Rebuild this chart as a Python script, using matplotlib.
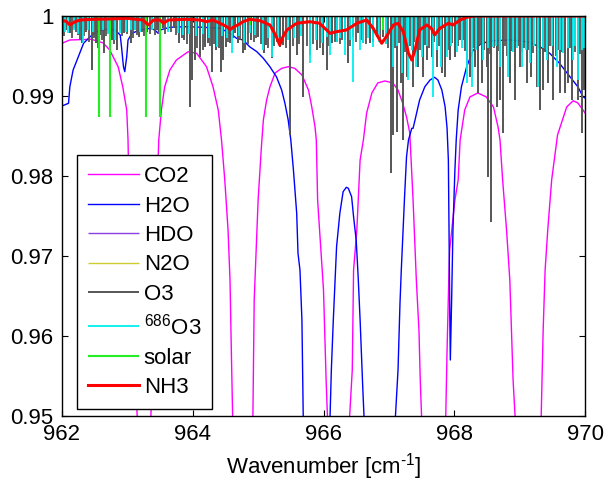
import matplotlib
matplotlib.use("Agg")
import matplotlib.pyplot as plt

plt.rcParams['font.family'] = ['Liberation Sans', 'DejaVu Sans']
plt.rcParams['mathtext.fontset'] = 'custom'
plt.rcParams['mathtext.rm'] = 'Liberation Sans'
plt.rcParams['mathtext.it'] = 'Liberation Sans'
plt.rcParams['mathtext.default'] = 'regular'

# ---------------- data ----------------
x_ticks = [962, 964, 966, 968, 970]
y_ticks = [0.95, 0.96, 0.97, 0.98, 0.99, 1.0]
y_tick_labels = ['0.95', '0.96', '0.97', '0.98', '0.99', '1']

# CO2 transmission (values below 0.95 are off-chart estimates)
co2_wn = [962.00, 962.12, 962.45, 962.63, 962.73, 962.86, 962.93, 962.99, 963.01, 963.04, 963.15,
          963.25,
          963.36, 963.41, 963.45, 963.48, 963.52, 963.57, 963.65, 963.75, 963.93, 964.06, 964.21,
          964.31, 964.39, 964.44, 964.49, 964.54, 964.57, 964.59, 964.61,
          964.76,
          964.92, 964.94, 964.97, 965.00, 965.05, 965.08, 965.13, 965.18, 965.26, 965.36, 965.46,
          965.56, 965.67, 965.77, 965.82, 965.87, 965.89, 965.91, 965.96, 966.00, 966.04, 966.06,
          966.23,
          966.40, 966.44, 966.46, 966.51, 966.56, 966.61, 966.66, 966.74, 966.83, 966.94, 967.06,
          967.14, 967.21, 967.27, 967.32, 967.37, 967.42, 967.46, 967.48, 967.50,
          967.69,
          967.87, 967.89, 967.92, 967.93, 968.01, 968.06, 968.09, 968.16, 968.24, 968.36, 968.49,
          968.60, 968.67, 968.70, 968.74, 968.80, 968.85, 968.90, 968.93,
          969.13,
          969.33, 969.36, 969.39, 969.43, 969.49, 969.58, 969.67, 969.72, 969.82, 969.89, 969.97,
          970.00]
co2_tr = [0.9966, 0.9970, 0.99709, 0.99663, 0.99575, 0.99363, 0.99113, 0.98825, 0.9845, 0.97075, 0.9500,
          0.930,
          0.9500, 0.9645, 0.9770, 0.9845, 0.98825, 0.99113, 0.99325, 0.9945, 0.99554, 0.99534, 0.99366,
          0.99116, 0.98825, 0.9845, 0.9795, 0.97325, 0.9670, 0.95825, 0.9500,
          0.930,
          0.9500, 0.9645, 0.97075, 0.9770, 0.98363, 0.9870, 0.9895, 0.99113, 0.99288, 0.99346, 0.99366,
          0.99346, 0.99263, 0.99075, 0.98866, 0.98616, 0.9845, 0.9770, 0.97075, 0.96575, 0.9545, 0.9500,
          0.930,
          0.9500, 0.95575, 0.96825, 0.97325, 0.9820, 0.9845, 0.98788, 0.99038, 0.99163, 0.99188, 0.99163,
          0.99075, 0.98913, 0.98738, 0.98538, 0.9770, 0.9670, 0.96075, 0.9545, 0.9500,
          0.930,
          0.9500, 0.95825, 0.96825, 0.97075, 0.9770, 0.9795, 0.9845, 0.98825, 0.98988, 0.99038, 0.98988,
          0.98863, 0.98613, 0.9845, 0.9795, 0.97325, 0.9670, 0.9545, 0.9500,
          0.930,
          0.9500, 0.96075, 0.96825, 0.97325, 0.9795, 0.98513, 0.98738, 0.98863, 0.98941, 0.98913, 0.98825,
          0.98788]

# H2O transmission
h2o_wn = [962.00, 962.10, 962.12, 962.17, 962.25, 962.33, 962.43, 962.53, 962.68, 962.81, 962.89,
          962.91, 962.94, 962.96, 962.99, 963.01, 963.07, 963.19, 963.35, 963.42, 963.47, 963.50,
          963.65, 963.91, 964.16, 964.42, 964.57, 964.67, 964.77, 964.87, 964.98, 965.08, 965.18,
          965.28, 965.36, 965.41, 965.46, 965.50, 965.54, 965.59, 965.61, 965.64, 965.67, 965.69,
          965.89,
          966.10, 966.12, 966.15, 966.20, 966.25, 966.30, 966.35, 966.38, 966.43, 966.46, 966.50,
          966.53, 966.56, 966.60, 966.62,
          966.86,
          967.10, 967.14, 967.17, 967.19, 967.24, 967.27, 967.30, 967.35, 967.37, 967.40, 967.47,
          967.55, 967.63, 967.70, 967.75, 967.81, 967.86, 967.89, 967.91, 967.92, 967.93, 967.94,
          967.96, 967.98, 968.01, 968.03, 968.06, 968.11, 968.19, 968.29, 968.42, 968.59, 968.85,
          969.11, 969.31, 969.46, 969.61, 969.77, 969.89, 969.97, 970.00]
h2o_tr = [0.98875, 0.98909, 0.99116, 0.99325, 0.99491, 0.99659, 0.99741, 0.99804, 0.99834, 0.99825, 0.99763,
          0.99616, 0.99366, 0.99304, 0.99491, 0.9970, 0.99784, 0.99825, 0.99846, 0.99825, 0.99784, 0.99825,
          0.99859, 0.99866, 0.99859, 0.99846, 0.99784, 0.99721, 0.9970, 0.99616, 0.99554, 0.99471, 0.99366,
          0.99241, 0.99075, 0.98909, 0.9870, 0.9845, 0.98075, 0.97534, 0.97034, 0.96825, 0.9620, 0.9499,
          0.930,
          0.9499, 0.95575, 0.9620, 0.97116, 0.97534, 0.97804, 0.97859, 0.97846, 0.97741, 0.97491, 0.9720,
          0.96741, 0.9620, 0.95366, 0.9499,
          0.930,
          0.9499, 0.95575, 0.96409, 0.96825, 0.97741, 0.98241, 0.9845, 0.98596, 0.98596, 0.9870, 0.9895,
          0.99116, 0.9920, 0.99234, 0.9920, 0.99075, 0.98866, 0.9860, 0.9820, 0.97325, 0.9645, 0.9570,
          0.9645, 0.97325, 0.98075, 0.9845, 0.98825, 0.99116, 0.99366, 0.99575, 0.99659, 0.99691, 0.9970,
          0.99679, 0.99616, 0.99534, 0.99409, 0.99241, 0.99116, 0.98991, 0.98975]

# HDO lines (centre, minimum transmission)
hdo_wn = [963.47, 969.17]
hdo_min = [0.9979, 0.9966]

# N2O lines
n2o_wn = [962.25, 963.73, 965.96]
n2o_min = [0.9991, 0.9991, 0.9998]

# O3 lines (stronger)
o3_wn = [962.06, 962.12, 962.18, 962.25, 962.31, 962.37, 962.46, 962.52, 962.58, 962.64, 962.70,
         962.76, 962.84, 962.89, 962.95, 963.06, 963.12, 963.18, 963.30, 963.38, 963.45, 963.54,
         963.62, 963.71, 963.79, 963.87, 963.96, 963.99, 964.03, 964.11, 964.19, 964.23, 964.29,
         964.36, 964.43, 964.46, 964.51, 964.57, 964.65, 964.69, 964.77, 964.80, 964.89, 965.00,
         965.09, 965.12, 965.21, 965.33, 965.38, 965.49, 965.59, 965.69, 965.79, 965.90, 965.99,
         966.05, 966.13, 966.21, 966.33, 966.37, 966.45, 966.53, 966.60, 966.71, 966.82, 966.91,
         967.03, 967.06, 967.12, 967.18, 967.21, 967.28, 967.37, 967.44, 967.52, 967.58, 967.66,
         967.73, 967.81, 967.86, 967.93, 968.01, 968.09, 968.19, 968.24, 968.32, 968.36, 968.42,
         968.50, 968.51, 968.56, 968.65, 968.70, 968.74, 968.85, 968.93, 969.00, 969.11, 969.17,
         969.26, 969.31, 969.35, 969.43, 969.51, 969.61, 969.69, 969.74, 969.80, 969.89, 969.95,
         969.98]
o3_min = [0.9982, 0.9979, 0.9985, 0.9976, 0.9966, 0.9980, 0.9933, 0.9966, 0.9976, 0.9954, 0.9979,
          0.9970, 0.9958, 0.9982, 0.9979, 0.9966, 0.9982, 0.9974, 0.9980, 0.9985, 0.9982, 0.9985,
          0.9982, 0.9985, 0.9966, 0.9970, 0.9886, 0.9920, 0.9945, 0.9949, 0.9961, 0.9966, 0.9930,
          0.9958, 0.9930, 0.9945, 0.9961, 0.9966, 0.9979, 0.9966, 0.9954, 0.9958, 0.9970, 0.9974,
          0.9954, 0.9964, 0.9948, 0.9961, 0.9964, 0.9851, 0.9951, 0.9899, 0.9951, 0.9958, 0.9951,
          0.9933, 0.9966, 0.9968, 0.9970, 0.9941, 0.9974, 0.9979, 0.9966, 0.9966, 0.9974, 0.9974,
          0.9804, 0.9851, 0.9855, 0.9916, 0.9845, 0.9924, 0.9911, 0.9936, 0.9924, 0.9945, 0.9949,
          0.9936, 0.9929, 0.9924, 0.9945, 0.9949, 0.9970, 0.9936, 0.9924, 0.9936, 0.9904, 0.9916,
          0.9936, 0.9799, 0.9743, 0.9886, 0.9895, 0.9854, 0.9916, 0.9895, 0.9936, 0.9916, 0.9924,
          0.9911, 0.9883, 0.9908, 0.9916, 0.9895, 0.9904, 0.9904, 0.9916, 0.9895, 0.9895, 0.9854,
          0.9908]

# O3 lines (weaker, the dense forest near the top)
o3_weak_wn = [962.03, 962.15, 962.22, 962.28, 962.34, 962.41, 962.49, 962.55, 962.61, 962.67, 962.73,
              962.80, 962.92, 963.00, 963.09, 963.15, 963.22, 963.26, 963.34, 963.42, 963.49, 963.58,
              963.66, 963.75, 963.83, 963.91, 964.07, 964.15, 964.26, 964.33, 964.40, 964.54, 964.61,
              964.73, 964.84, 964.93, 964.96, 965.04, 965.15, 965.25, 965.29, 965.43, 965.53, 965.63,
              965.74, 965.84, 965.94, 966.09, 966.17, 966.25, 966.29, 966.41, 966.49, 966.57, 966.65,
              966.76, 966.87, 966.96, 966.99,
              967.09, 967.15, 967.24, 967.32, 967.40, 967.48, 967.55, 967.62, 967.69, 967.77, 967.90,
              967.97, 968.05, 968.13, 968.16, 968.28, 968.39, 968.46, 968.54, 968.61, 968.68, 968.78,
              968.81, 968.89, 968.97, 969.04, 969.07, 969.14, 969.21, 969.29, 969.39, 969.47, 969.55,
              969.58, 969.65, 969.77, 969.84, 969.92]
o3_weak_min = [0.9975, 0.9972, 0.9980, 0.9970, 0.9975, 0.9968, 0.9972, 0.9960, 0.9970, 0.9975, 0.9968,
               0.9965, 0.9975, 0.9978, 0.9972, 0.9976, 0.9980, 0.9975, 0.9978, 0.9976, 0.9980, 0.9978,
               0.9980, 0.9976, 0.9972, 0.9965, 0.9960, 0.9958, 0.9962, 0.9965, 0.9960, 0.9968, 0.9972,
               0.9970, 0.9965, 0.9968, 0.9972, 0.9965, 0.9960, 0.9962, 0.9968, 0.9960, 0.9963, 0.9965,
               0.9962, 0.9965, 0.9960, 0.9962, 0.9968, 0.9965, 0.9970, 0.9962, 0.9968, 0.9970, 0.9965,
               0.9968, 0.9970, 0.9965, 0.9960,
               0.9960, 0.9966, 0.9955, 0.9962, 0.9968, 0.9958, 0.9964, 0.9960, 0.9968, 0.9962, 0.9958,
               0.9966, 0.9962, 0.9970, 0.9956, 0.9960, 0.9964, 0.9958, 0.9952, 0.9960, 0.9956, 0.9962,
               0.9950, 0.9956, 0.9962, 0.9955, 0.9960, 0.9958, 0.9954, 0.9960, 0.9955, 0.9962, 0.9950,
               0.9958, 0.9955, 0.9960, 0.9955, 0.9952]

# 686-O3 lines
o3686_wn = [962.09, 962.32, 962.81, 962.89, 963.12, 963.28, 963.50, 963.77, 964.37, 964.60, 964.78,
            964.87, 965.07, 965.21, 965.79, 965.98, 966.10, 966.33, 966.45, 966.56, 966.60, 966.76,
            967.06, 967.20, 967.28, 967.29, 967.41, 967.50, 967.67, 967.80, 967.89, 968.19, 968.27,
            968.44, 968.59, 968.70, 968.82, 969.03, 969.16, 969.28, 969.42, 969.57, 969.66, 969.81,
            969.89, 969.95,
            962.04, 962.18, 962.25, 962.40, 962.47, 962.62, 962.70, 962.98, 963.05, 963.20, 963.38,
            963.62, 963.85, 963.94, 964.05, 964.15, 964.25, 964.45, 964.53, 964.70, 964.95, 965.15,
            965.30, 965.45, 965.55, 965.65, 965.88, 966.05, 966.20, 966.25, 966.40, 966.68, 966.85,
            966.95, 967.12, 967.35, 967.58, 967.73, 967.95, 968.04, 968.12, 968.34, 968.52, 968.64,
            968.90, 968.96, 969.09, 969.22, 969.35, 969.50, 969.62, 969.74, 969.85, 969.98]
o3686_min = [0.9979, 0.9966, 0.9970, 0.9979, 0.9982, 0.9966, 0.9958, 0.9979, 0.9961, 0.9954, 0.9966,
             0.9979, 0.9958, 0.9949, 0.9941, 0.9966, 0.9951, 0.9951, 0.9918, 0.9958, 0.9966, 0.9961,
             0.9936, 0.9929, 0.9966, 0.9920, 0.9936, 0.9949, 0.9899, 0.9936, 0.9949, 0.9916, 0.9911,
             0.9945, 0.9961, 0.9936, 0.9924, 0.9936, 0.9941, 0.9911, 0.9945, 0.9936, 0.9954, 0.9945,
             0.9920, 0.9958,
             0.9980, 0.9982, 0.9978, 0.9982, 0.9980, 0.9982, 0.9978, 0.9980, 0.9982, 0.9980, 0.9982,
             0.9980, 0.9976, 0.9978, 0.9975, 0.9978, 0.9972, 0.9975, 0.9972, 0.9975, 0.9976, 0.9972,
             0.9974, 0.9970, 0.9972, 0.9975, 0.9970, 0.9974, 0.9968, 0.9972, 0.9970, 0.9972, 0.9968,
             0.9965, 0.9962, 0.9958, 0.9962, 0.9958, 0.9962, 0.9955, 0.9960, 0.9958, 0.9960, 0.9962,
             0.9955, 0.9960, 0.9958, 0.9962, 0.9960, 0.9962, 0.9958, 0.9960, 0.9962, 0.9960]

# solar lines
solar_continuum = 1.0
solar_wn = [962.57, 962.73, 963.28, 963.50, 964.87, 966.91]
solar_min = [0.9874, 0.9874, 0.9874, 0.9874, 0.9989, 0.9982]

# NH3 transmission
nh3_wn = [962.00, 962.07, 962.12, 962.20, 962.28, 962.48, 962.73, 962.99, 963.24, 963.32, 963.40,
          963.50, 963.55, 963.63, 963.91, 964.11, 964.21, 964.31, 964.47, 964.52, 964.57, 964.63,
          964.69, 964.77, 964.87, 965.03, 965.18, 965.28, 965.33, 965.38, 965.44, 965.59, 965.79,
          965.94, 966.10, 966.20, 966.35, 966.51, 966.66, 966.76, 966.89, 966.96, 967.07, 967.14,
          967.22, 967.30, 967.35, 967.40, 967.47, 967.58, 967.65, 967.70, 967.78, 967.91, 967.98,
          968.09, 968.19, 968.24, 968.32, 970.00]
nh3_tr = [0.9995, 0.99929, 0.99888, 0.99929, 0.9995, 0.99959, 0.99963, 0.99971, 0.9995, 0.99888, 0.9995,
          0.9995, 0.99909, 0.9995, 0.99959, 0.9995, 0.99929, 0.9995, 0.99888, 0.99866, 0.9983, 0.99866,
          0.99888, 0.99929, 0.99959, 0.99941, 0.99888, 0.99741, 0.99638, 0.99741, 0.99825, 0.99909, 0.99929,
          0.99909, 0.99784, 0.99804, 0.99825, 0.99909, 0.9995, 0.99846, 0.99659, 0.99741, 0.99888, 0.99909,
          0.99804, 0.99534, 0.9945, 0.99575, 0.99825, 0.99888, 0.99846, 0.99763, 0.99846, 0.99909, 0.99888,
          0.9995, 0.99984, 0.99991, 1.0, 1.0]

labels = ['CO2', 'H2O', 'HDO', 'N2O', 'O3', r'$^{686}$O3', 'solar', 'NH3']
colors = ['#FF00FF', '#0000FF', '#8A3FE0', '#CCCC30', '#555555', '#00F0F0', '#22EE22', '#FF0000']

# ---------------- figure ----------------
fig = plt.figure(figsize=(6.09, 4.86), dpi=100)
ax = fig.add_axes([62 / 609, 70 / 486, 523 / 609, 400 / 486])

h_co2, = ax.plot(co2_wn, co2_tr, color=colors[0], lw=1.0, label=labels[0])
h_h2o, = ax.plot(h2o_wn, h2o_tr, color=colors[1], lw=1.0, label=labels[1])
h_hdo = ax.vlines(hdo_wn, hdo_min, solar_continuum, color=colors[2], lw=1.0, label=labels[2])
h_n2o = ax.vlines(n2o_wn, n2o_min, solar_continuum, color=colors[3], lw=1.0, label=labels[3])
ax.vlines(o3_weak_wn, o3_weak_min, solar_continuum, color=colors[4], lw=1.3)
h_o3 = ax.vlines(o3_wn, o3_min, solar_continuum, color=colors[4], lw=1.4, label=labels[4])
h_686 = ax.vlines(o3686_wn, o3686_min, solar_continuum, color=colors[5], lw=1.3, label=labels[5])
ax.axhline(solar_continuum, color=colors[6], lw=1.5)
h_sol = ax.vlines(solar_wn, solar_min, solar_continuum, color=colors[6], lw=1.5, label=labels[6])
h_nh3, = ax.plot(nh3_wn, nh3_tr, color=colors[7], lw=2.2, label=labels[7])

ax.set_xlim(962, 970)
ax.set_ylim(0.95, 1.0)
ax.set_xticks(x_ticks)
ax.set_xticklabels([str(v) for v in x_ticks])
ax.set_yticks(y_ticks)
ax.set_yticklabels(y_tick_labels)
ax.tick_params(direction='in', length=4, width=0.8, labelsize=16, pad=6,
               top=True, right=True)
for s in ax.spines.values():
    s.set_linewidth(1.0)
ax.set_xlabel(r'Wavenumber [cm$^{\text{-}1}$]', fontsize=16, labelpad=4)

leg = ax.legend(handles=[h_co2, h_h2o, h_hdo, h_n2o, h_o3, h_686, h_sol, h_nh3],
                loc='upper left', bbox_to_anchor=(15 / 523, (416 - 155) / 400),
                borderaxespad=0, fontsize=16, frameon=True, fancybox=False,
                edgecolor='black', framealpha=1, handlelength=2.3, handletextpad=0.2,
                labelspacing=0.38, borderpad=0.5)
leg.get_frame().set_linewidth(1.0)

fig.savefig('out.png', dpi=100)
